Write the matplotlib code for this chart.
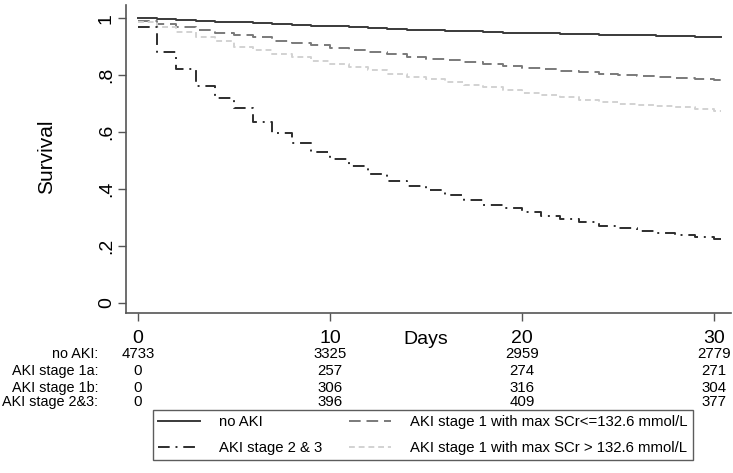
import numpy as np
import matplotlib.pyplot as plt

plt.rcParams['font.family'] = ['Liberation Sans', 'DejaVu Sans']

# ----------------------------- datos -----------------------------
days = list(range(31))
follow_up_end = 30.4

surv_no_aki = [1.0, 0.997, 0.994, 0.991, 0.988, 0.985, 0.982, 0.979, 0.977, 0.974,
               0.971, 0.968, 0.965, 0.962, 0.959, 0.957, 0.955, 0.953, 0.951, 0.949,
               0.948, 0.946, 0.945, 0.943, 0.942, 0.940, 0.939, 0.937, 0.936, 0.934, 0.933]
surv_1a = [0.99, 0.98, 0.97, 0.958, 0.947, 0.94, 0.933, 0.92, 0.913, 0.905,
           0.895, 0.887, 0.88, 0.873, 0.865, 0.858, 0.852, 0.845, 0.84, 0.833,
           0.826, 0.82, 0.815, 0.81, 0.804, 0.80, 0.796, 0.792, 0.789, 0.785, 0.782]
surv_1b = [0.985, 0.97, 0.95, 0.933, 0.918, 0.90, 0.887, 0.875, 0.862, 0.85,
           0.84, 0.828, 0.817, 0.805, 0.795, 0.785, 0.777, 0.766, 0.757, 0.748,
           0.738, 0.729, 0.722, 0.714, 0.707, 0.70, 0.696, 0.691, 0.687, 0.681, 0.675]
surv_23 = [0.97, 0.88, 0.82, 0.76, 0.72, 0.686, 0.635, 0.595, 0.56, 0.53,
           0.506, 0.48, 0.453, 0.43, 0.41, 0.395, 0.38, 0.36, 0.345, 0.334,
           0.32, 0.306, 0.295, 0.283, 0.272, 0.262, 0.254, 0.247, 0.24, 0.231, 0.225]

risk_times = [0, 10, 20, 30]
risk_labels = ['no AKI:', 'AKI stage 1a:', 'AKI stage 1b:', 'AKI stage 2&3:']
risk_counts = [[4733, 3325, 2959, 2779],
               [0, 257, 274, 271],
               [0, 306, 316, 304],
               [0, 396, 409, 377]]

y_ticks = [0, 0.2, 0.4, 0.6, 0.8, 1.0]
y_ticklabels = ['0', '.2', '.4', '.6', '.8', '1']
x_ticks = [0, 10, 20, 30]

# ----------------------------- grafica -----------------------------
fig = plt.figure(figsize=(7.33, 4.73), dpi=100)
ax = fig.add_axes([126/733, 1 - 313/473, 605/733, 308/473])

def km(vals, **kw):
    x = days + [follow_up_end]
    y = vals + [vals[-1]]
    return ax.plot(x, y, drawstyle='steps-post', lw=1.4, **kw)[0]

h0 = km(surv_no_aki, color='#3a3a3a', ls='-', label='no AKI')
h1 = km(surv_1a, color='#7a7a7a', ls=(0, (6, 3)), label='AKI stage 1 with max SCr<=132.6 mmol/L')
h2 = km(surv_1b, color='#d2d2d2', ls=(0, (3, 2)), label='AKI stage 1 with max SCr > 132.6 mmol/L')
h3 = km(surv_23, color='#2e2e2e', ls=(0, (6, 3, 1, 3)), label='AKI stage 2 & 3')

ax.set_xlim(-0.625, 30.9)
ax.set_ylim(-0.035, 1.046)
for s in ['top', 'right']:
    ax.spines[s].set_visible(False)
for s in ['left', 'bottom']:
    ax.spines[s].set_color('#555555')
    ax.spines[s].set_linewidth(1.2)

ax.set_yticks(y_ticks)
ax.set_yticklabels(y_ticklabels, rotation=90, va='center', fontsize=14)
ax.set_xticks(x_ticks)
ax.set_xticklabels([str(t) for t in x_ticks], fontsize=14)
ax.tick_params(length=6, color='#555555', width=1.0)
ax.tick_params(axis='y', pad=2)
ax.tick_params(axis='x', pad=6)

fig.text(47/733, 1 - 157/473, 'Survival', rotation=90,
         ha='center', va='center', fontsize=15)

xf_days = fig.transFigure.inverted().transform(ax.transData.transform((15, 0)))[0]
fig.text(xf_days, 1 - 339/473, 'Days', ha='center', va='center', fontsize=14)

# tabla de numero en riesgo
row_y = [354, 371, 388, 402]
for lab, counts, yp in zip(risk_labels, risk_counts, row_y):
    fy = 1 - yp/473
    fig.text(98/733, fy, lab, ha='right', va='center', fontsize=10.4)
    for t, c in zip(risk_times, counts):
        xf = fig.transFigure.inverted().transform(ax.transData.transform((t, 0)))[0]
        fig.text(xf, fy, str(c), ha='center', va='center', fontsize=10.8)

leg = fig.legend(handles=[h0, h3, h1, h2], ncol=2, loc='upper left',
                 bbox_to_anchor=(153/733, 1 - 410/473), borderaxespad=0,
                 fontsize=10.7, frameon=True, fancybox=False, edgecolor='#333333',
                 handlelength=2.8, handletextpad=1.3, columnspacing=1.8,
                 labelspacing=0.8, borderpad=0.35)
leg.get_frame().set_linewidth(1.0)

fig.savefig('out.png', dpi=100)
